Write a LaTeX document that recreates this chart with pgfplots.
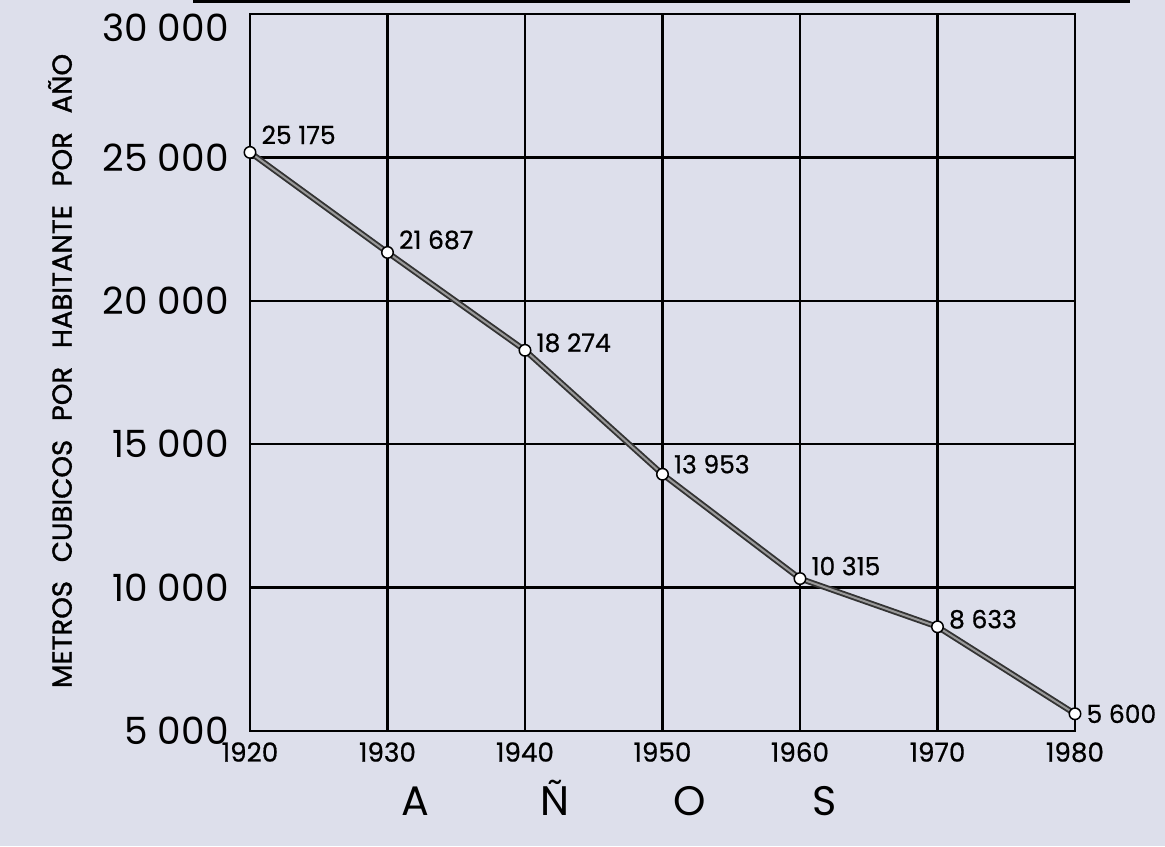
\documentclass[border=0pt]{standalone}
\usepackage{pgfplots}
\pgfplotsset{compat=1.18}
\usepackage{pgfplotstable}
\usepackage{fontspec}
\setmainfont{Poppins}
\definecolor{paper}{RGB}{221,223,235}

\pgfplotstableread[col sep=comma]{
year,val,lab,dy
1920,25175,25 175,7
1930,21687,21 687,5
1940,18274,18 274,3
1950,13953,13 953,4
1960,10315,10 315,5
1970,8633,8 633,3
1980,5600,5 600,0
}\datatable

\begin{document}
\begin{tikzpicture}[x=1pt,y=1pt]
\fill[paper] (0,0) rectangle (466,338.4);
\fill[black] (77.2,337.0) rectangle (452,338.4);
\begin{axis}[
  at={(100pt,46pt)}, anchor=south west,
  scale only axis, width=330pt, height=286.8pt,
  xmin=1920, xmax=1980, ymin=5000, ymax=30000,
  xtick={1920,1930,1940,1950,1960,1970,1980},
  xticklabels={1920,1930,1940,1950,1960,1970,1980},
  ytick={5000,10000,15000,20000,25000},
  yticklabels={5 000,10 000,15 000,20 000,25 000},
  extra y ticks={30000},
  extra y tick labels={30 000},
  extra y tick style={yticklabel style={yshift=-5.5pt}},
  xticklabel style={font=\fontsize{10.5}{12}\selectfont\addfontfeature{FakeBold=0.6}, yshift=-1pt},
  yticklabel style={font=\fontsize{15}{17}\selectfont, xshift=-5pt},
  grid=major, grid style={black, line width=1pt},
  axis line style={black, line width=1.1pt},
  major tick length=0pt,
  clip=false,
]
\addplot[black!80, line width=2.3pt, mark=none] table[x=year, y=val] {\datatable};
\addplot[black!40, line width=0.8pt, mark=none] table[x=year, y=val] {\datatable};
\addplot[only marks, mark=*, mark size=2.3pt,
  mark options={fill=white, draw=black, line width=0.6pt},
  point meta=explicit symbolic,
  visualization depends on={\thisrow{dy} \as \dy},
  nodes near coords,
  every node near coord/.style={anchor=west, xshift=1pt, yshift=\dy pt,
     font=\fontsize{10}{11}\selectfont\addfontfeature{FakeBold=0.6}, text=black},
] table[x=year, y=val, meta=lab] {\datatable};

\node[font=\fontsize{16.5}{18}\selectfont, anchor=base] at (rel axis cs:0.2,0) [yshift=-33.6pt] {A};
\node[font=\fontsize{16.5}{18}\selectfont, anchor=base] at (rel axis cs:0.3697,0) [yshift=-33.6pt] {Ñ};
\node[font=\fontsize{16.5}{18}\selectfont, anchor=base] at (rel axis cs:0.533,0) [yshift=-33.6pt] {O};
\node[font=\fontsize{16.5}{18}\selectfont, anchor=base] at (rel axis cs:0.697,0) [yshift=-33.6pt] {S};
\end{axis}
\node[rotate=90, font=\fontsize{11}{12}\selectfont\addfontfeature{FakeBold=1.2}] at (24,190) {METROS\hspace{7.5pt}CUBICOS\hspace{7.5pt}POR\hspace{7.5pt}HABITANTE\hspace{7.5pt}POR\hspace{7.5pt}AÑO};
\pgfresetboundingbox
\useasboundingbox (0,0) rectangle (466,338.4);
\end{tikzpicture}
\end{document}
